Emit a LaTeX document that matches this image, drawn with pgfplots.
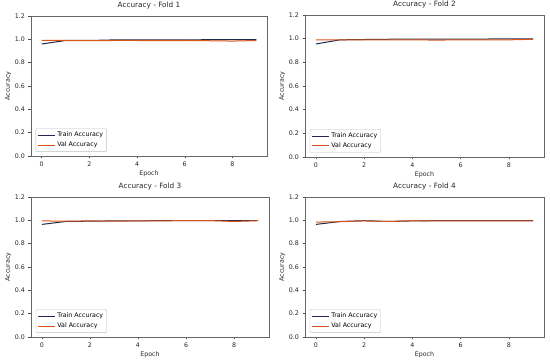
\documentclass[border=0pt]{standalone}
\usepackage{pgfplots}
\pgfplotsset{compat=1.18}
\usepackage{fontspec}
\setmainfont{DejaVu Sans}
\definecolor{trainc}{rgb}{0.12,0.16,0.30}
\definecolor{valc}{rgb}{0.85,0.33,0.10}
\pgfplotsset{
  fold/.style={
    scale only axis,
    width=236pt, height=140pt,
    xmin=-0.45, xmax=9.45, ymin=0, ymax=1.2,
    xtick={0,2,4,6,8}, ytick={0,0.2,0.4,0.6,0.8,1.0,1.2},
    yticklabel style={/pgf/number format/.cd,fixed,fixed zerofill,precision=1},
    /pgf/number format/assume math mode=true,
    tick align=outside, tick pos=left,
    major tick length=2.5pt,
    every tick/.style={black!70, line width=0.5pt},
    axis line style={black!60, line width=0.6pt},
    ticklabel style={font=\fontsize{6.3}{7}\selectfont, text=black!85},
    label style={font=\fontsize{6.3}{7}\selectfont, text=black!85},
    title style={font=\fontsize{7.3}{8}\selectfont, text=black!85, yshift=-3pt},
    xlabel={Epoch}, ylabel={Accuracy},
    xlabel style={yshift=3pt}, ylabel style={yshift=-3pt},
    legend style={font=\fontsize{6.3}{7}\selectfont, draw=black!25, rounded corners=1pt,
      fill=white, inner sep=1.5pt, row sep=-0.5pt, at={(0.02,0.03)}, anchor=south west},
    legend cell align=left,
    legend image post style={line width=0.8pt},
  },
  tr/.style={trainc, line width=1pt, no marks},
  va/.style={valc, line width=1pt, no marks},
}
\begin{document}
\begin{tikzpicture}[x=1pt,y=1pt]
\useasboundingbox (0,0) rectangle (550,361);
\begin{axis}[fold, at={(31pt,205pt)}, title={Accuracy - Fold 1}]
\addplot[tr] coordinates {(0,0.96)(1,0.99)(2,0.99)(3,0.995)(4,0.995)(5,0.995)(6,0.995)(7,0.997)(8,0.997)(9,0.997)};
\addplot[va] coordinates {(0,0.99)(1,0.99)(2,0.988)(3,0.99)(4,0.99)(5,0.988)(6,0.99)(7,0.988)(8,0.985)(9,0.99)};
\legend{Train Accuracy, Val Accuracy}
\end{axis}
\begin{axis}[fold, at={(305pt,204pt)}, width=239pt, height=142pt, title={Accuracy - Fold 2}]
\addplot[tr] coordinates {(0,0.955)(1,0.99)(2,0.993)(3,0.995)(4,0.996)(5,0.996)(6,0.997)(7,0.997)(8,0.998)(9,0.998)};
\addplot[va] coordinates {(0,0.99)(1,0.99)(2,0.99)(3,0.99)(4,0.99)(5,0.988)(6,0.99)(7,0.99)(8,0.99)(9,0.995)};
\legend{Train Accuracy, Val Accuracy}
\end{axis}
\begin{axis}[fold, at={(31pt,24pt)}, width=238pt, title={Accuracy - Fold 3}]
\addplot[tr] coordinates {(0,0.965)(1,0.99)(2,0.993)(3,0.995)(4,0.996)(5,0.997)(6,0.998)(7,0.998)(8,0.997)(9,0.998)};
\addplot[va] coordinates {(0,0.995)(1,0.993)(2,0.995)(3,0.993)(4,0.995)(5,0.996)(6,0.997)(7,0.998)(8,0.99)(9,0.997)};
\legend{Train Accuracy, Val Accuracy}
\end{axis}
\begin{axis}[fold, at={(305pt,24pt)}, width=239pt, title={Accuracy - Fold 4}]
\addplot[tr] coordinates {(0,0.965)(1,0.99)(2,0.997)(3,0.99)(4,0.995)(5,0.997)(6,0.997)(7,0.998)(8,0.998)(9,0.998)};
\addplot[va] coordinates {(0,0.985)(1,0.988)(2,0.995)(3,0.99)(4,0.997)(5,0.995)(6,0.995)(7,0.995)(8,0.995)(9,0.995)};
\legend{Train Accuracy, Val Accuracy}
\end{axis}
\end{tikzpicture}
\end{document}
